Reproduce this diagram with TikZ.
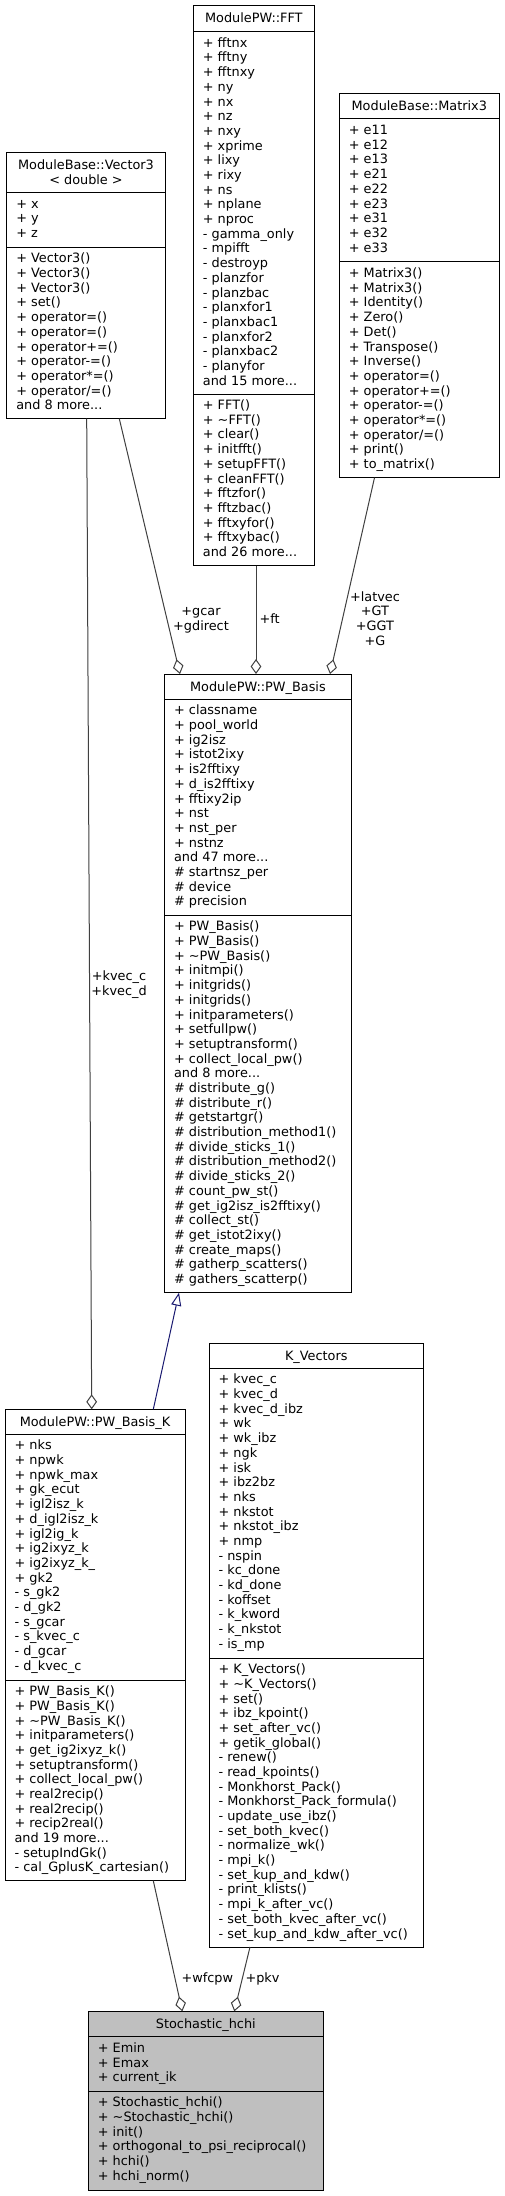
\documentclass[tikz,border=0pt]{standalone}
\usepackage{fontspec}
\newfontfamily\dvs{DejaVu Sans}
\usetikzlibrary{arrows.meta,calc}
\definecolor{grey25}{HTML}{404040}
\definecolor{grey75}{HTML}{BFBFBF}
\definecolor{mnblue}{HTML}{191970}
\newcommand\dfont{\dvs\fontsize{12.85bp}{14.69bp}\selectfont}
\newcommand\tdots{.{}.{}.}
\newcommand\rows[4]{\foreach \t [count=\i] in {#4} {\node[row] (#1-\i) at (#2,{#3+(\i-1)*14.69}) {\t};}}
\newcommand\umlbox[8]{%
  \node[box, fill=#8, minimum width={(#3-#2)*1bp}, minimum height={(#7-#4)*1bp}, anchor=north west] (#1) at (#2,#4) {};
  \draw[sepline] ($(#1.north west)+(0,#5-#4)$) -- ($(#1.north east)+(0,#5-#4)$);
  \draw[sepline] ($(#1.north west)+(0,#6-#4)$) -- ($(#1.north east)+(0,#6-#4)$);
}
\tikzset{
  box/.style={draw=black, line width=1bp, inner sep=0, outer sep=0},
  sepline/.style={draw=black, line width=1bp},
  row/.style={anchor=base west, inner sep=0, outer sep=0, font=\dfont},
  ttl/.style={anchor=base, inner sep=0, outer sep=0, font=\dfont},
  elabel/.style={anchor=base, inner sep=0, outer sep=0, font=\dfont},
  usage/.style={draw=grey25, line width=1bp, -{Diamond[open, fill=white, length=15bp, width=10.7bp]}},
  inherit/.style={draw=mnblue, line width=1bp, -{Triangle[open, fill=white, length=13bp, width=10bp]}},
}
\begin{document}
\begin{tikzpicture}[x=1bp, y=-1bp]
\useasboundingbox (0,0) rectangle (505,2196);
\fill[white] (0,0) rectangle (505,2196);

% ModuleBase::Vector3
\umlbox{v3}{6.7}{165.3}{152.7}{192.7}{247.3}{418.7}{white}
\node[ttl] (v3-t1) at (86,169.7) {ModuleBase::Vector3};
\node[ttl] (v3-t2) at (86,184.4) {< double >};
\rows{v3a}{16.3}{208.3}{+ x, + y, + z}
\rows{v3m}{16.3}{262.9}{+ Vector3(), + Vector3(), + Vector3(), + set(), + operator=(), + operator=(), + operator+=(), + operator-=(), + operator*=(), + operator/=(), and 8 more\tdots}

% ModulePW::FFT
\umlbox{fft}{193.3}{314.3}{5.7}{31.7}{394}{565.7}{white}
\node[ttl] (fft-t) at (253.8,22.7) {ModulePW::FFT};
\rows{ffta}{202.9}{47.3}{+ fftnx, + fftny, + fftnxy, + ny, + nx, + nz, + nxy, + xprime, + lixy, + rixy, + ns, + nplane, + nproc, - gamma\_only, - mpifft, - destroyp, - planzfor, - planzbac, - planxfor1, - planxbac1, - planxfor2, - planxbac2, - planyfor, and 15 more\tdots}
\rows{fftm}{202.9}{409.6}{+ FFT(), + \textasciitilde FFT(), + clear(), + initfft(), + setupFFT(), + cleanFFT(), + fftzfor(), + fftzbac(), + fftxyfor(), + fftxybac(), and 26 more\tdots}

% ModuleBase::Matrix3
\umlbox{m3}{339.3}{499.3}{94}{119}{262}{477.7}{white}
\node[ttl] (m3-t) at (419.3,111) {ModuleBase::Matrix3};
\rows{m3a}{348.9}{134.6}{+ e11, + e12, + e13, + e21, + e22, + e23, + e31, + e32, + e33}
\rows{m3m}{348.9}{277.6}{+ Matrix3(), + Matrix3(), + Identity(), + Zero(), + Det(), + Transpose(), + Inverse(), + operator=(), + operator+=(), + operator-=(), + operator*=(), + operator/=(), + print(), + to\_matrix()}

% ModulePW::PW_Basis
\umlbox{pwb}{164.5}{351.3}{674}{699.3}{915.3}{1292.7}{white}
\node[ttl] (pwb-t) at (257.9,691) {ModulePW::PW\_Basis};
\rows{pwba}{174.1}{714.9}{+ classname, + pool\_world, + ig2isz, + istot2ixy, + is2fftixy, + d\_is2fftixy, + fftixy2ip, + nst, + nst\_per, + nstnz, and 47 more\tdots, \# startnsz\_per, \# device, \# precision}
\rows{pwbm}{174.1}{930.9}{+ PW\_Basis(), + PW\_Basis(), + \textasciitilde PW\_Basis(), + initmpi(), + initgrids(), + initgrids(), + initparameters(), + setfullpw(), + setuptransform(), + collect\_local\_pw(), and 8 more\tdots, \# distribute\_g(), \# distribute\_r(), \# getstartgr(), \# distribution\_method1(), \# divide\_sticks\_1(), \# distribution\_method2(), \# divide\_sticks\_2(), \# count\_pw\_st(), \# get\_ig2isz\_is2fftixy(), \# collect\_st(), \# get\_istot2ixy(), \# create\_maps(), \# gatherp\_scatters(), \# gathers\_scatterp()}

% ModulePW::PW_Basis_K
\umlbox{pwk}{5}{185}{1409.3}{1434.3}{1680}{1880.7}{white}
\node[ttl] (pwk-t) at (95,1426.3) {ModulePW::PW\_Basis\_K};
\rows{pwka}{14.6}{1449.9}{+ nks, + npwk, + npwk\_max, + gk\_ecut, + igl2isz\_k, + d\_igl2isz\_k, + igl2ig\_k, + ig2ixyz\_k, + ig2ixyz\_k\_, + gk2, - s\_gk2, - d\_gk2, - s\_gcar, - s\_kvec\_c, - d\_gcar, - d\_kvec\_c}
\rows{pwkm}{14.6}{1695.6}{+ PW\_Basis\_K(), + PW\_Basis\_K(), + \textasciitilde PW\_Basis\_K(), + initparameters(), + get\_ig2ixyz\_k(), + setuptransform(), + collect\_local\_pw(), + real2recip(), + real2recip(), + recip2real(), and 19 more\tdots, - setupIndGk(), - cal\_GplusK\_cartesian()}

% K_Vectors
\umlbox{kv}{209}{423.7}{1343.3}{1368.3}{1658}{1947}{white}
\node[ttl] (kv-t) at (316.3,1360.3) {K\_Vectors};
\rows{kva}{218.6}{1383.9}{+ kvec\_c, + kvec\_d, + kvec\_d\_ibz, + wk, + wk\_ibz, + ngk, + isk, + ibz2bz, + nks, + nkstot, + nkstot\_ibz, + nmp, - nspin, - kc\_done, - kd\_done, - koffset, - k\_kword, - k\_nkstot, - is\_mp}
\rows{kvm}{218.6}{1673.6}{+ K\_Vectors(), + \textasciitilde K\_Vectors(), + set(), + ibz\_kpoint(), + set\_after\_vc(), + getik\_global(), - renew(), - read\_kpoints(), - Monkhorst\_Pack(), - Monkhorst\_Pack\_formula(), - update\_use\_ibz(), - set\_both\_kvec(), - normalize\_wk(), - mpi\_k(), - set\_kup\_and\_kdw(), - print\_klists(), - mpi\_k\_after\_vc(), - set\_both\_kvec\_after\_vc(), - set\_kup\_and\_kdw\_after\_vc()}

% Stochastic_hchi
\umlbox{sh}{88.3}{323.3}{2011.3}{2036.7}{2091.3}{2190}{grey75}
\node[ttl] (sh-t) at (205.8,2028.3) {Stochastic\_hchi};
\rows{sha}{97.9}{2052.3}{+ Emin, + Emax, + current\_ik}
\rows{shm}{97.9}{2106.9}{+ Stochastic\_hchi(), + \textasciitilde Stochastic\_hchi(), + init(), + orthogonal\_to\_psi\_reciprocal(), + hchi(), + hchi\_norm()}

% connectors
\draw[usage] ($(v3.south west)+(112.6,0)$) -- ($(pwb.north west)+(15.5,0)$);
\draw[usage] ($(fft.south west)+(62.7,0)$) -- ($(pwb.north west)+(91.5,0)$);
\draw[usage] ($(m3.south west)+(35.2,0)$) -- ($(pwb.north west)+(165.5,0)$);
\draw[usage] ($(v3.south west)+(80,0)$) -- ($(pwk.north west)+(86.7,0)$);
\draw[inherit] ($(pwk.north west)+(148.3,0)$) -- ($(pwb.south west)+(14.5,0)$);
\draw[usage] ($(pwk.south west)+(148.3,0)$) -- ($(sh.north west)+(94,0)$);
\draw[usage] ($(kv.south west)+(41,0)$) -- ($(sh.north west)+(146,0)$);

% connector labels
\node[elabel] (l-gcar) at (201,615.5) {+gcar};
\node[elabel] (l-gdirect) at (201,630.2) {+gdirect};
\node[elabel] (l-ft) at (269.7,623.3) {+ft};
\node[elabel] (l-latvec) at (375,601) {+latvec};
\node[elabel] (l-GT) at (375,615.7) {+GT};
\node[elabel] (l-GGT) at (375,630.4) {+GGT};
\node[elabel] (l-G) at (375,645.1) {+G};
\node[elabel] (l-kvecc) at (119,980.5) {+kvec\_c};
\node[elabel] (l-kvecd) at (119,995.2) {+kvec\_d};
\node[elabel] (l-wfcpw) at (207.3,1982.7) {+wfcpw};
\node[elabel] (l-pkv) at (262.5,1982.7) {+pkv};
\end{tikzpicture}
\end{document}
